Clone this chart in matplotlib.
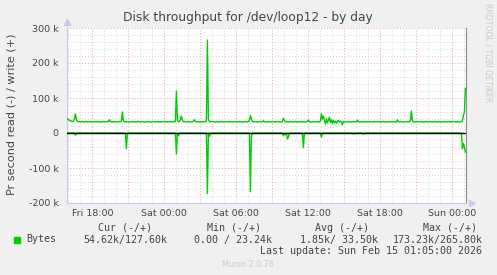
import matplotlib
matplotlib.use("Agg")
import matplotlib.pyplot as plt
import matplotlib.dates as mdates
from matplotlib.ticker import FuncFormatter
import numpy as np
import pandas as pd

# 5-minute samples, Fri 15:55 -> Sun 01:05 (values in k bytes/s)
start_time = "2026-02-13 15:55"
end_time = "2026-02-15 01:05"

write_k = [
    40, 39, 36, 35, 34, 33, 33, 40, 54, 38, 33, 32, 33, 32, 32, 33, 32, 31, 32, 33,
    32, 32, 33, 32, 31, 32, 32, 33, 32, 32, 33, 32, 32, 31, 32, 32, 33, 32, 32, 32,
    33, 32, 38, 33, 32, 32, 31, 32, 33, 32, 32, 32, 33, 32, 34, 60, 35, 32, 32, 33,
    32, 32, 31, 32, 32, 33, 32, 32, 32, 31, 32, 33, 32, 32, 32, 33, 32, 31, 32, 32,
    33, 32, 32, 32, 31, 32, 33, 32, 32, 32, 33, 32, 31, 32, 32, 32, 33, 32, 32, 32,
    31, 32, 33, 32, 32, 32, 33, 32, 33, 120, 38, 32, 33, 38, 48, 36, 32, 33, 32, 32,
    32, 33, 32, 31, 32, 32, 34, 38, 33, 32, 32, 33, 32, 31, 32, 32, 33, 32, 32, 35,
    265.8, 40, 33, 32, 33, 33, 32, 32, 31, 32, 33, 32, 32, 32, 33, 32, 31, 32, 32, 33,
    32, 32, 32, 33, 32, 31, 32, 32, 33, 32, 32, 32, 33, 32, 32, 31, 32, 33, 32, 32,
    32, 33, 36, 50, 40, 33, 32, 32, 33, 32, 31, 32, 32, 33, 32, 32, 35, 32, 32, 31,
    32, 33, 32, 32, 32, 33, 32, 31, 32, 32, 33, 32, 32, 32, 31, 33, 42, 36, 32, 33,
    32, 32, 31, 32, 33, 32, 32, 32, 33, 32, 31, 32, 32, 32, 33, 32, 32, 31, 32, 32,
    33, 37, 32, 32, 31, 32, 33, 32, 32, 32, 33, 32, 31, 34, 55, 40, 48, 35, 26, 40,
    29, 36, 45, 30, 38, 27, 36, 30, 34, 28, 33, 36, 31, 34, 32, 23.24, 33, 32, 31, 32,
    32, 33, 32, 32, 31, 32, 33, 32, 32, 32, 37, 32, 31, 32, 33, 32, 32, 32, 31, 33,
    32, 32, 33, 32, 32, 31, 32, 33, 32, 32, 32, 33, 32, 31, 32, 32, 33, 32, 32, 32,
    31, 32, 33, 32, 32, 32, 33, 32, 31, 32, 38, 32, 32, 33, 32, 32, 31, 32, 33, 32,
    32, 32, 33, 34, 63, 36, 32, 32, 31, 32, 33, 32, 32, 32, 33, 32, 31, 32, 32, 33,
    32, 32, 32, 33, 32, 31, 32, 32, 33, 32, 32, 32, 33, 32, 31, 32, 32, 33, 32, 32,
    32, 33, 32, 31, 32, 32, 33, 32, 32, 32, 33, 32, 31, 32, 32, 34, 50, 60, 127.6,
]

read_k = [
    0, 0, 0, 0, 0, 0, 0, 0, 6, 0, 0, 0, 0, 0, 0, 0, 0, 0, 0, 0,
    0, 0, 0, 0, 0, 0, 0, 0, 0, 0, 0, 0, 0, 0, 0, 0, 0, 0, 0, 0,
    0, 0, 0, 0, 0, 0, 0, 0, 0, 0, 0, 0, 0, 0, 0, 0, 0, 0, 0, 45,
    0, 0, 0, 0, 0, 0, 0, 0, 0, 0, 0, 0, 0, 0, 0, 0, 0, 0, 0, 0,
    0, 0, 0, 0, 0, 0, 0, 0, 0, 0, 0, 0, 0, 0, 0, 0, 0, 0, 0, 0,
    0, 0, 0, 0, 0, 0, 0, 0, 0, 60, 0, 8, 0, 0, 0, 0, 0, 0, 0, 0,
    0, 0, 0, 0, 0, 0, 0, 0, 0, 0, 0, 0, 0, 0, 0, 0, 0, 0, 0, 0,
    173.23, 0, 10, 0, 0, 0, 0, 0, 0, 0, 0, 0, 0, 0, 0, 0, 0, 0, 0, 0,
    0, 0, 0, 0, 0, 0, 0, 0, 0, 0, 0, 0, 0, 0, 0, 0, 0, 0, 0, 0,
    0, 0, 0, 168, 10, 0, 0, 0, 0, 0, 0, 0, 0, 0, 0, 0, 0, 0, 0, 0,
    0, 0, 0, 0, 0, 0, 0, 0, 0, 0, 0, 0, 0, 0, 0, 0, 8, 0, 5, 0,
    17, 12, 0, 0, 0, 0, 0, 0, 0, 0, 0, 0, 0, 0, 0, 0, 42, 0, 0, 0,
    0, 0, 0, 0, 0, 0, 0, 0, 0, 0, 0, 0, 0, 0, 12, 0, 0, 0, 0, 0,
    0, 0, 0, 0, 0, 0, 0, 0, 0, 0, 0, 0, 0, 0, 0, 0, 0, 0, 0, 0,
    0, 0, 0, 0, 0, 0, 3, 0, 0, 0, 0, 0, 0, 0, 0, 0, 3, 0, 0, 0,
    0, 0, 0, 0, 0, 0, 0, 0, 0, 0, 0, 0, 0, 0, 0, 0, 0, 0, 0, 0,
    0, 0, 0, 0, 0, 0, 0, 0, 0, 0, 0, 0, 0, 0, 0, 0, 0, 0, 0, 0,
    0, 0, 0, 0, 0, 0, 0, 0, 0, 0, 0, 0, 0, 0, 0, 0, 0, 0, 0, 0,
    0, 0, 0, 0, 0, 0, 0, 0, 0, 0, 0, 0, 0, 0, 0, 0, 0, 0, 0, 0,
    0, 0, 0, 0, 0, 0, 0, 0, 0, 0, 0, 0, 0, 0, 0, 45, 30, 40, 54.62,
]

legend_headers = ["Cur (-/+)", "Min (-/+)", "Avg (-/+)", "Max (-/+)"]
legend_values = ["54.62k/127.60k", "0.00 / 23.24k", "1.85k/ 33.50k", "173.23k/265.80k"]
last_update = "Last update: Sun Feb 15 01:05:00 2026"

GREEN = "#00CC00"
TXT = "#444444"

times = pd.date_range(start_time, end_time, freq="5min")
write = np.array(write_k) * 1000.0
read = np.array(read_k) * 1000.0

W, H = 497, 275
fig = plt.figure(figsize=(W / 100, H / 100), dpi=100, facecolor="#F0F0F0")
ax = fig.add_axes([67 / W, 1 - 203 / H, 399 / W, 175 / H], facecolor="white")

x0 = pd.Timestamp("2026-02-13 15:53")
x1 = pd.Timestamp("2026-02-15 01:08")
ax.set_xlim(x0, x1)
ax.set_ylim(-200000, 300000)

# grid: minor every 20k / 1h, major every 100k / 3h
for v in range(-180000, 300000, 20000):
    if v % 100000:
        ax.axhline(v, color="#D8D8D8", lw=0.7, ls=(0, (1, 2)), zorder=1)
for v in range(-100000, 300001, 100000):
    ax.axhline(v, color="#EBA0A0", lw=0.7, ls=(0, (1, 2)), zorder=1)
for t in pd.date_range("2026-02-13 16:00", "2026-02-15 01:00", freq="1h"):
    if t.hour % 3:
        ax.axvline(t, color="#D8D8D8", lw=0.7, ls=(0, (1, 2)), zorder=1)
    else:
        ax.axvline(t, color="#EBA0A0", lw=0.7, ls=(0, (1, 2)), zorder=1)

ax.plot(times, write, color=GREEN, lw=1.0, zorder=3)
ax.plot(times, -read, color=GREEN, lw=1.0, zorder=3)
ax.axhline(0, color="black", lw=1.0, zorder=4)

ax.set_xticks(pd.date_range("2026-02-13 18:00", "2026-02-15 00:00", freq="6h"))
ax.xaxis.set_major_formatter(mdates.DateFormatter("%a %H:%M"))
ax.set_yticks(range(-200000, 300001, 100000))
ax.yaxis.set_major_formatter(
    FuncFormatter(lambda v, p: "0" if v == 0 else f"{int(v / 1000)} k")
)
ax.tick_params(axis="x", length=0, pad=4, labelsize=6.8, labelcolor=TXT)
ax.tick_params(axis="y", length=0, pad=6, labelsize=6.8, labelcolor=TXT)

for side in ("top",):
    ax.spines[side].set_visible(False)
ax.spines["left"].set_color("#C8C8F0")
ax.spines["bottom"].set_color("#C8C8F0")
ax.spines["right"].set_color("#888888")
for s in ax.spines.values():
    s.set_linewidth(0.8)

# axis arrows
ax.plot([0], [1.035], marker="^", ms=4, color="#C8C8F0", transform=ax.transAxes, clip_on=False)
ax.plot([1.015], [0], marker=">", ms=4, color="#C8C8F0", transform=ax.transAxes, clip_on=False)

fig.text(248 / W, 1 - 18 / H, "Disk throughput for /dev/loop12 - by day",
         ha="center", va="center", fontsize=8.8, color=TXT)
fig.text(12 / W, 1 - 114 / H, "Pr second read (-) / write (+)", rotation=90,
         ha="center", va="center", fontsize=8.1, color=TXT)
fig.text(488 / W, 1 - 53 / H, "RRDTOOL / TOBI OETIKER", rotation=270,
         ha="center", va="center", fontsize=5.6, color="#C8C8C8")

mono = "DejaVu Sans Mono"
fig.patches.append(plt.Rectangle((14 / W, 1 - 243 / H), 6 / W, 6 / H,
                                 transform=fig.transFigure, color=GREEN))
fig.text(26 / W, 1 - 239.5 / H, "Bytes", family=mono, fontsize=7.2,
         color=TXT, va="center")
header_x = [98, 207, 315, 423]
value_x = [83, 194, 300, 393]
for hx, vx, hd, vl in zip(header_x, value_x, legend_headers, legend_values):
    fig.text(hx / W, 1 - 228 / H, hd, family=mono, fontsize=7.2, color=TXT, va="center")
    fig.text(vx / W, 1 - 239.5 / H, vl, family=mono, fontsize=7.2, color=TXT, va="center")
fig.text(482 / W, 1 - 251 / H, last_update, family=mono, fontsize=7.2,
         color=TXT, va="center", ha="right")
fig.text(248 / W, 1 - 264.5 / H, "Munin 2.0.76", fontsize=5.8,
         color="#C8C8C8", va="center", ha="center")

fig.savefig("out.png", dpi=100, facecolor=fig.get_facecolor())
